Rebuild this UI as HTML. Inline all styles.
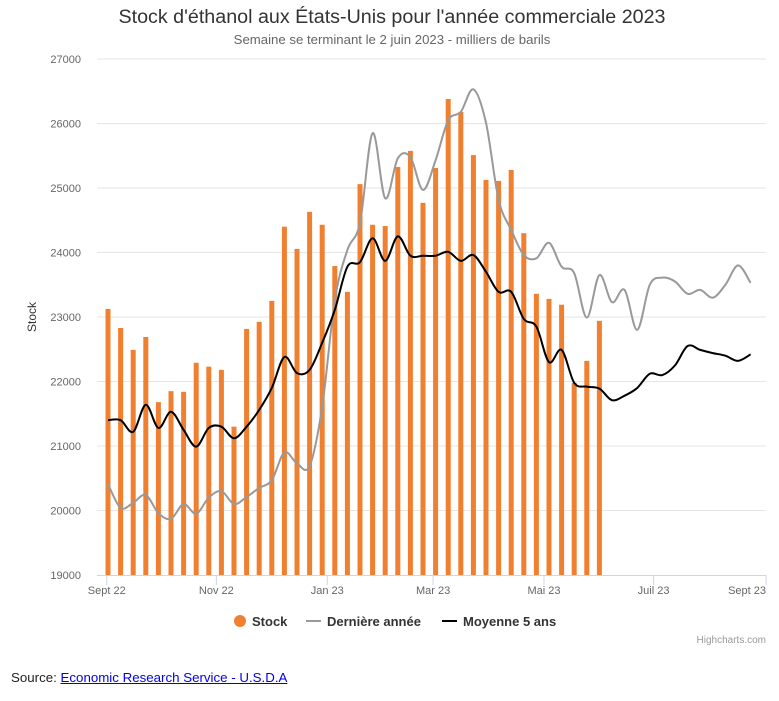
<!DOCTYPE html>
<html><head><meta charset="utf-8">
<style>
body{margin:0;background:#fff;font-family:"Liberation Sans",sans-serif;}
#wrap{position:relative;width:779px;height:701px;}
svg text{font-family:"Liberation Sans",sans-serif;}
#src{position:absolute;left:11px;top:670px;font-size:13.3px;color:#222;}
#src a{color:#00e;text-decoration:underline;}
</style></head><body>
<div id="wrap">
<svg id="chart" width="779" height="660">
<text x="392" y="23" text-anchor="middle" font-size="19.7" fill="#333">Stock d'éthanol aux États-Unis pour l'année commerciale 2023</text>
<text x="392" y="44" text-anchor="middle" font-size="13.2" fill="#666">Semaine se terminant le 2 juin 2023 - milliers de barils</text>
<text transform="translate(36,317) rotate(-90)" text-anchor="middle" font-size="12" fill="#333">Stock</text>
<g id="grid"></g><g id="bars"></g><g id="lines"></g><g id="xaxis"></g>
<g>
<g><circle cx="240" cy="621" r="6" fill="#f08030"/><text x="252" y="626" font-size="13" font-weight="bold" fill="#333">Stock</text></g>
<g><line x1="306" y1="621" x2="321" y2="621" stroke="#999" stroke-width="2"/><text x="327" y="626" font-size="13" font-weight="bold" fill="#333">Dernière année</text></g>
<g><line x1="442" y1="621" x2="457" y2="621" stroke="#000" stroke-width="2"/><text x="463" y="626" font-size="13" font-weight="bold" fill="#333">Moyenne 5 ans</text></g>
</g>
<text x="766" y="643" text-anchor="end" font-size="10" fill="#999">Highcharts.com</text>
</svg>
<div id="src">Source: <a>Economic Research Service - U.S.D.A</a></div>
</div>
<script>
const yTicks=[19000,20000,21000,22000,23000,24000,25000,26000,27000];
const xTickLabels=["Sept 22","Nov 22","Jan 23","Mar 23","Mai 23","Juil 23","Sept 23"];
const xTickWeeks=[-0.1,8.6,17.4,25.8,34.6,43.3,51.2];
const stock=[23125,22830,22490,22690,21680,21850,21840,22290,22230,22180,21300,22815,22925,23250,24400,24055,24630,24430,23790,23390,25060,24430,24410,25325,25575,24770,25310,26380,26180,25510,25125,25110,25280,24300,23360,23280,23190,21980,22320,22940];
const lastYear=[20410,20040,20120,20240,19960,19870,20100,19950,20200,20300,20100,20210,20350,20470,20900,20730,20690,21610,23260,24040,24460,25850,24840,25460,25480,24970,25430,26050,26180,26530,26010,24820,24350,23960,23910,24150,23780,23680,22990,23650,23230,23420,22800,23500,23610,23550,23360,23420,23300,23500,23800,23530];
const avg5=[21400,21400,21220,21640,21280,21530,21250,20990,21280,21300,21120,21300,21560,21900,22380,22130,22180,22600,23110,23780,23850,24220,23870,24250,23950,23950,23950,24010,23870,23960,23700,23390,23390,22970,22850,22300,22490,21980,21920,21890,21710,21780,21900,22120,22100,22250,22550,22490,22440,22400,22320,22420];
const NS="http://www.w3.org/2000/svg";
const X0=108,DX=12.6,Y0=575,YT=59,L=97,R=766;
const xs=i=>X0+i*DX;
const ys=v=>Y0-(v-19000)/8000*(Y0-YT);
function mk(t,a,p){const e=document.createElementNS(NS,t);for(const k in a)e.setAttribute(k,a[k]);p.appendChild(e);return e;}
const grid=document.getElementById('grid');
yTicks.forEach(v=>{
 if(v>19000){const g=mk('line',{x1:L,x2:R,y1:ys(v),y2:ys(v),stroke:'#e6e6e6'},grid);
 
 }
 const t=mk('text',{x:81,y:ys(v)+4,'text-anchor':'end','font-size':11,fill:'#666'},grid);t.textContent=v;
 
 
});
const bars=document.getElementById('bars');
stock.forEach((v,i)=>{const r=mk('rect',{x:xs(i)-2.5,y:ys(v),width:5,height:Y0-ys(v),fill:'#f08030'},bars);
 
 });
function path(d){const p=d.map((v,i)=>[xs(i),ys(v)]);let s=`M${p[0][0]},${p[0][1]}`;
 for(let i=0;i<p.length-1;i++){const a=p[i-1]||p[i],b=p[i],c=p[i+1],e=p[i+2]||c;
 s+=` C${b[0]+(c[0]-a[0])/6},${b[1]+(c[1]-a[1])/6} ${c[0]-(e[0]-b[0])/6},${c[1]-(e[1]-b[1])/6} ${c[0]},${c[1]}`;}return s;}
const lines=document.getElementById('lines');
const l1=mk('path',{d:path(lastYear),fill:'none',stroke:'#999','stroke-width':2},lines);


const l2=mk('path',{d:path(avg5),fill:'none',stroke:'#000','stroke-width':2},lines);


const xa=document.getElementById('xaxis');
const ax=mk('line',{x1:L,x2:R,y1:Y0+0.5,y2:Y0+0.5,stroke:'#ccd6eb'},xa);


xTickLabels.forEach((lab,k)=>{const x=k===xTickLabels.length-1?R:xs(xTickWeeks[k]);
 mk('line',{x1:x,x2:x,y1:Y0,y2:Y0+10,stroke:'#ccd6eb'},xa);
 const last=k===xTickLabels.length-1;
 const t=mk('text',{x:x,y:Y0+19,'text-anchor':last?'end':'middle','font-size':11,fill:'#666'},xa);t.textContent=lab;
 
 });
</script>
</body></html>
